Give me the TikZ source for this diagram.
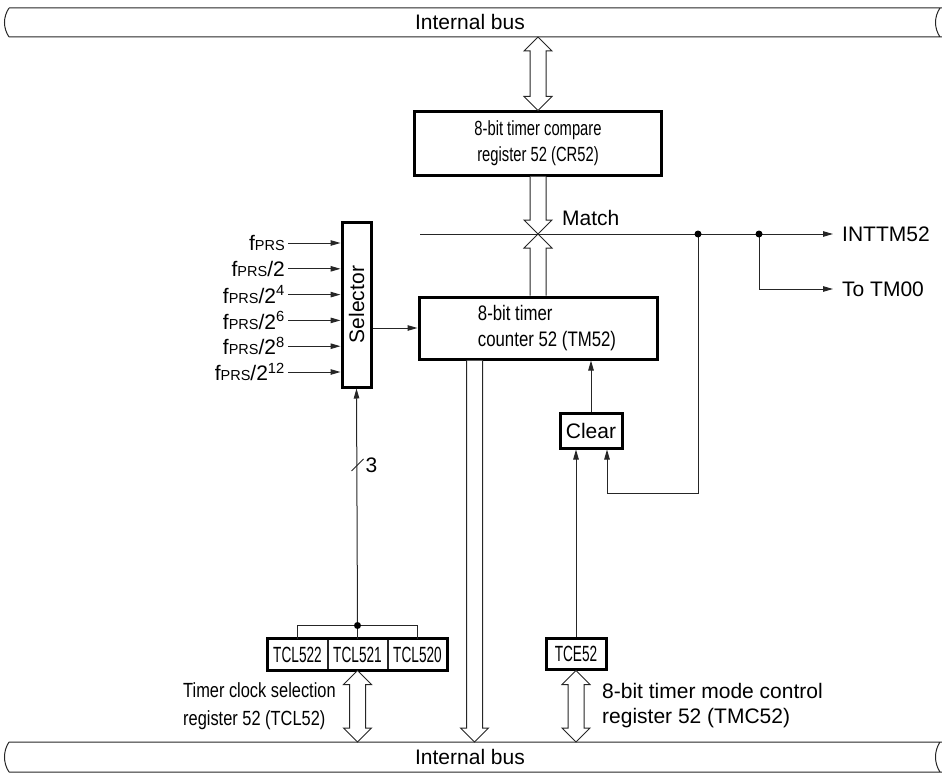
\documentclass[tikz,border=0pt]{standalone}
\usepackage{graphicx}
\usepackage{fontspec}
\setmainfont{Liberation Sans}
\newfontfamily\condfont[FakeStretch=0.8]{Liberation Sans}
\newfontfamily\tightfont[FakeStretch=0.72]{Liberation Sans}
\newfontfamily\narrowfont[FakeStretch=0.62]{Liberation Sans}
\usetikzlibrary{arrows.meta,positioning,calc}

\newcommand\pxfont[2]{\fontsize{#1}{#2}\selectfont}
\newcommand\fprs{f{\pxfont{14.5}{14.5}PRS}}

% bus outline with a break mark at each end
\newcommand\busbar[2]{%
  \draw[wire] (9,#1) -- (942,#1) (9,#2) -- (942,#2)
    (9,#1) .. controls (3,#1+9) and (3,#2-9) .. (9,#2)
    (940,#1) .. controls (934,#1+9) and (934,#2-9) .. (940,#2);}

% wide arrow, heads at both ends (#1 above #2)
\newcommand\twoway[2]{%
  \draw[busarrow] let \p1=(#1), \p2=(#2) in
    (\x1,\y1) -- ++(14pt,-14pt) -- ++(-6pt,0) -- (\x1+8pt,\y2+14pt) -- ++(6pt,0)
    -- (\x1,\y2) -- ++(-14pt,14pt) -- ++(6pt,0) -- (\x1-8pt,\y1-14pt) -- ++(-6pt,0) -- cycle;}

% wide arrow, head at #2 only (#3 = 1 points down, -1 points up)
\newcommand\oneway[3]{%
  \draw[busarrow] let \p1=(#1), \p2=(#2) in
    (\x2-8pt,\y1) -- (\x2-8pt,{\y2+#3*14pt}) -- ++(-6pt,0) -- (\x2,\y2)
    -- (\x2+14pt,{\y2+#3*14pt}) -- ++(-6pt,0) -- (\x2+8pt,\y1);}

\begin{document}
\begin{tikzpicture}[x=1pt,y=-1pt,>={Triangle[length=10pt,width=5.5pt]},
    reg/.style={draw, line width=3pt, inner sep=0pt},
    cell/.style={draw=black!85, line width=1pt, minimum width=59pt, minimum height=31pt,
      inner sep=0pt, font=\narrowfont\pxfont{22}{22}},
    wire/.style={draw=black!85, line width=1pt},
    sig/.style={wire, ->},
    busarrow/.style={wire, fill=white, line join=miter},
    lbl/.style={inner sep=0pt, font=\pxfont{21}{25}}]

  \useasboundingbox (0,0) rectangle (942,773);

  % internal buses
  \busbar{8}{37}
  \busbar{742}{772}
  \node[lbl] (tbus) at (470,22) {Internal bus};
  \node[lbl] (bbus) at (470,757) {Internal bus};

  % registers and blocks
  \node[reg, minimum width=247pt, minimum height=63pt, align=center,
        font=\tightfont\pxfont{20.5}{26}] (CR52) at (538,143.5)
        {8-bit timer compare\\register 52 (CR52)};
  \node[reg, minimum width=238pt, minimum height=62pt,
        label={[xshift=9pt, align=left, font=\condfont\pxfont{21}{26}]center:
          8-bit timer\\counter 52 (TM52)}] (TM52) at (538,328) {};
  \node[reg, minimum width=29pt, minimum height=165pt, font=\pxfont{21}{25}] (sel)
        at (356.5,304.5) {\rotatebox{90}{Selector}};
  \node[reg, minimum width=62pt, minimum height=35pt, font=\pxfont{21}{25}] (Clear)
        at (591,430.5) {Clear};
  \node[reg, minimum width=60pt, minimum height=31pt, font=\narrowfont\pxfont{22}{22}]
        (TCE52) at (576,653.5) {TCE52};

  \node[cell] (tcl2) at (297.5,654.5) {TCL522};
  \node[cell, right=0pt of tcl2] (tcl1) {TCL521};
  \node[cell, right=0pt of tcl1] (tcl0) {TCL520};
  \draw[line width=3pt] (tcl2.north west) rectangle (tcl0.south east);

  \node[lbl, anchor=west, align=left, font=\condfont\pxfont{20.5}{28}] (tcllbl)
        at (183,706) {Timer clock selection\\register 52 (TCL52)};
  \node[lbl, anchor=west, align=left, font=\pxfont{21}{25}] (tmclbl)
        at (602,705.5) {8-bit timer mode control\\register 52 (TMC52)};

  % clock inputs to the selector
  \foreach \clk [count=\i from 0] in {\fprs, \fprs/2, \fprs/2\textsuperscript{4},
      \fprs/2\textsuperscript{6}, \fprs/2\textsuperscript{8}, \fprs/2\textsuperscript{12}} {
    \node[lbl, anchor=east, inner xsep=3pt] (in\i) at (288,243+25.8*\i) {\clk};
    \draw[sig] (in\i.east) -- (in\i.east -| sel.west);
  }
  \draw[sig] (sel.east |- TM52) -- (TM52.west);

  % match signal
  \coordinate (mstart) at (420,234);
  \coordinate (dotA) at (698,234);
  \coordinate (dotB) at (759,234);
  \coordinate (fb) at (698,493);
  \node[lbl, anchor=west] (matchlbl) at (562,218) {Match};
  \node[lbl, anchor=west, inner xsep=9pt] (int) at (833,234) {INTTM52};
  \node[lbl, anchor=west, inner xsep=9pt] (tm00) at (833,289) {To TM00};
  \draw[sig] (mstart) -- (int.west);
  \draw[sig] (dotB) |- (tm00.west);
  \draw[sig] (dotA) -- (fb) -| ([xshift=16pt]Clear.south);
  \fill (dotA) circle (3.5pt);
  \fill (dotB) circle (3.5pt);

  % clear logic
  \draw[sig] (Clear.north) -- (Clear.north |- TM52.south);
  \draw[sig] (TCE52.north) -- ([xshift=-15pt]Clear.south);

  % clock select bits
  \coordinate (brk) at ([yshift=13pt]tcl1.north);
  \draw[wire] (tcl2.north) |- (brk) -| (tcl0.north);
  \draw[wire] (brk) -- (tcl1.north);
  \draw[sig] (brk) -- (sel.south);
  \fill (brk) circle (3.5pt);
  \coordinate (w3) at (brk |- 0,465);
  \draw[wire] ([shift={(-6pt,-6pt)}]w3) -- ([shift={(6pt,6pt)}]w3);
  \node[lbl, anchor=west] (n3) at ([xshift=8pt]w3) {3};

  % data paths
  \coordinate (tb) at (538,37);
  \coordinate (bb) at (0,742);
  \coordinate (tmout) at ([xshift=57pt]TM52.south west);
  \coordinate (match) at (TM52.north |- mstart);
  \twoway{tb}{CR52.north}
  \twoway{tcl1.south}{tcl1.south |- bb}
  \twoway{TCE52.south}{TCE52.south |- bb}
  \oneway{tmout}{tmout |- bb}{1}
  \oneway{CR52.south}{match}{1}
  \oneway{TM52.north}{match}{-1}

\end{tikzpicture}
\end{document}
